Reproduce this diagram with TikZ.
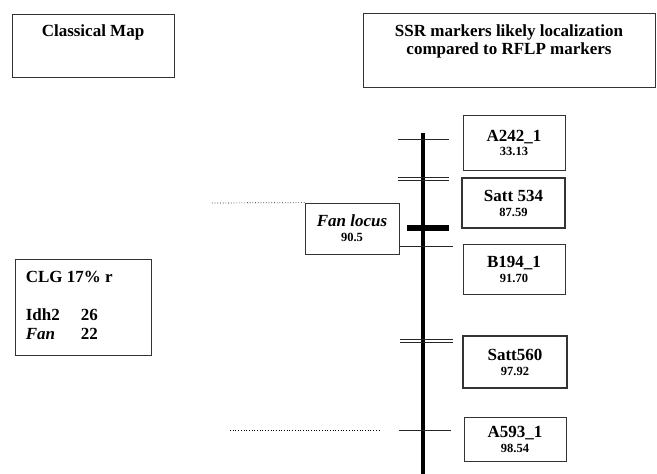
\documentclass[tikz,border=0pt]{standalone}
\usepackage{fontspec}
\setmainfont{Liberation Serif}
\usepackage{tikz}
\usetikzlibrary{positioning}

\newcommand{\mpos}[1]{{\fontsize{12.5}{14}\selectfont #1}}

\begin{document}
\begin{tikzpicture}[x=1pt, y=-1pt]

	\tikzstyle{box}=[draw=black!80, line width=0.8pt, inner sep=0, align=center, font=\fontsize{17}{15}\selectfont\bfseries];
	\tikzstyle{ssr}=[box, line width=2.8pt];
	\tikzstyle{lbl}=[inner sep=0, font=\fontsize{17}{18}\selectfont\bfseries];
	\tikzstyle{tick}=[draw=black!85, line width=0.9pt];

	\useasboundingbox (0,0) rectangle (657,474);

	% headers
	\node (cmap) [box, minimum width=162, minimum height=63] at (93,45.5) {};
	\node (cmap label) [lbl, below=11pt of cmap.north] {Classical Map};
	\node (ssrh) [box, minimum width=292, minimum height=74] at (509,50) {};
	\node (ssrh label) [lbl, align=center, below=12pt of ssrh.north] {SSR markers likely localization\\compared to RFLP markers};

	% classical linkage group
	\node (clg) [box, minimum width=136, minimum height=96] at (83,307) {};
	\node (clg label) [lbl, align=left, below right=12pt and 11pt of clg.north west]
		{CLG 17\% r\\[20pt]\makebox[55pt][l]{Idh2}26\\[1pt]\makebox[55pt][l]{\textit{Fan}}22};

	% chromosome
	\coordinate (chr top) at (423,133);
	\coordinate (chr bot) at (423,474);
	\draw [line width=3.6pt] (chr top) -- (chr bot);

	% markers
	\node (a242) [box, minimum width=102, minimum height=55] at (514,142.5) {A242\_1\\[-1pt]\mpos{33.13}};
	\node (satt534) [ssr, minimum width=103, minimum height=50] at (513.5,203) {Satt 534\\\mpos{87.59}};
	\node (b194) [box, minimum width=102, minimum height=50] at (514,269) {B194\_1\\\mpos{91.70}};
	\node (satt560) [ssr, minimum width=104, minimum height=52] at (515,362) {Satt560\\\mpos{97.92}};
	\node (a593) [box, minimum width=102, minimum height=44] at (515,439) {A593\_1\\\mpos{98.54}};
	\node (fan) [box, minimum width=94, minimum height=51] at (352,228.5) {\textit{Fan locus}\\\mpos{90.5}};

	% ticks
	\draw [tick] (398,139) -- (449,139);
	\draw [tick] (398,177) -- (449,177);
	\draw [tick] (398,180) -- (449,180);
	\draw [line width=6pt] (407,228) -- (449,228);
	\draw [tick] (fan.east |- 0,246) -- (453,246);
	\draw [tick] (400,339) -- (453,339);
	\draw [tick] (400,342) -- (453,342);
	\draw [tick] (399,430) -- (451,430);

	% dotted leaders
	\coordinate (fan lead) at (212,203);
	\coordinate (a593 lead 1) at (230,430);
	\coordinate (a593 lead 2) at (381,430);
	\draw [dotted, line width=0.7pt] (fan lead) -- (fan.north west);
	\draw [dotted, line width=0.7pt] (a593 lead 1) -- (a593 lead 2);

\end{tikzpicture}
\end{document}
